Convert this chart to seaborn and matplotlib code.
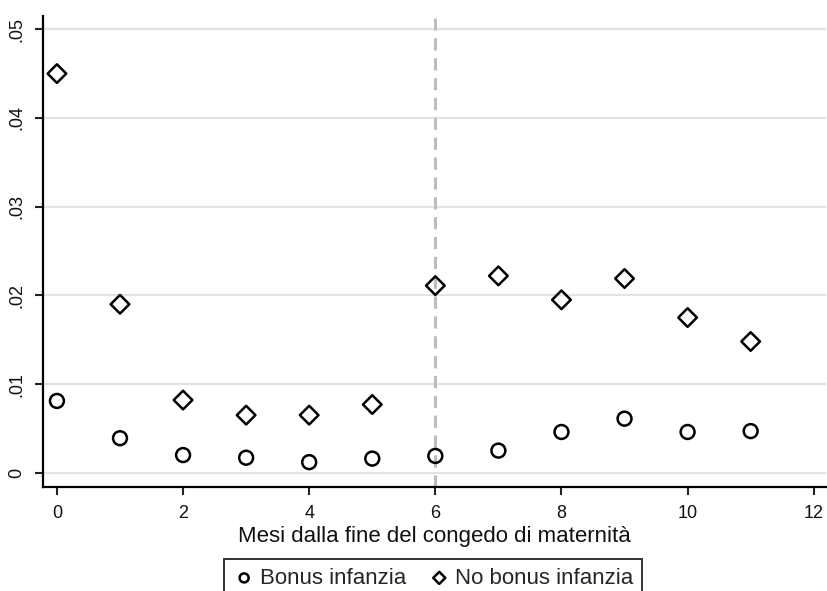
import numpy as np
import pandas as pd
import matplotlib
matplotlib.use("Agg")
import matplotlib.pyplot as plt
import seaborn as sns

# values
months = list(range(12))
bonus = [0.0081, 0.0039, 0.0020, 0.0017, 0.0012, 0.0016,
         0.0019, 0.0025, 0.0046, 0.0061, 0.0046, 0.0047]
no_bonus = [0.0450, 0.0190, 0.0082, 0.0065, 0.0065, 0.0077,
            0.0211, 0.0222, 0.0195, 0.0219, 0.0175, 0.0148]
y_ticks = [0, 0.01, 0.02, 0.03, 0.04, 0.05]
y_labels = ["0", ".01", ".02", ".03", ".04", ".05"]
x_ticks = [0, 2, 4, 6, 8, 10, 12]

df = pd.DataFrame({"mese": months, "bonus": bonus, "no_bonus": no_bonus})

sns.set_theme(style="white")
plt.rcParams["font.family"] = ["Liberation Sans", "DejaVu Sans"]

fig = plt.figure(figsize=(8.28, 5.91), dpi=100)
ax = fig.add_axes([0.052, 0.176, 0.946, 0.797])

# grid lines and cutoff line
for yt in y_ticks:
    ax.axhline(yt, color="#dce6ea", lw=1.6, zorder=0)
ax.axvline(6, color="#bdbdbd", lw=2.2, ls=(0, (4, 2.5)), zorder=1)

sns.scatterplot(data=df, x="mese", y="bonus", marker="o", s=100,
                color="none", edgecolor="black", linewidth=1.8,
                label="Bonus infanzia", ax=ax, zorder=3)
sns.scatterplot(data=df, x="mese", y="no_bonus", marker="D", s=90,
                color="none", edgecolor="black", linewidth=1.8,
                label="No bonus infanzia", ax=ax, zorder=3)

ax.set_xlim(-0.22, 12.2)
ax.set_ylim(-0.0016, 0.0515)
ax.set_xticks(x_ticks)
ax.set_yticks(y_ticks)
ax.set_yticklabels(y_labels, rotation=90, va="center")
ax.tick_params(axis="both", direction="out", length=6, width=1.5,
               color="#222222", labelsize=13, labelcolor="#111111",
               bottom=True, left=True)
ax.tick_params(axis="y", pad=7)
ax.tick_params(axis="x", pad=7)

for side in ["top", "right"]:
    ax.spines[side].set_visible(False)
for side in ["left", "bottom"]:
    ax.spines[side].set_color("black")
    ax.spines[side].set_linewidth(1.6)

ax.set_xlabel("Mesi dalla fine del congedo di maternità", fontsize=16,
              labelpad=3, color="#111111")
ax.set_ylabel("")

handles, labels = ax.get_legend_handles_labels()
ax.get_legend().remove()
leg = fig.legend(handles, labels, loc="lower center", ncol=2,
                 bbox_to_anchor=(0.523, -0.03), frameon=True,
                 fancybox=False, edgecolor="black", fontsize=16,
                 handletextpad=0.2, columnspacing=1.0, borderpad=0.4,
                 markerscale=0.65, handlelength=1.0)
leg.get_frame().set_linewidth(1.4)

fig.savefig("out.png", dpi=100, facecolor="white")
